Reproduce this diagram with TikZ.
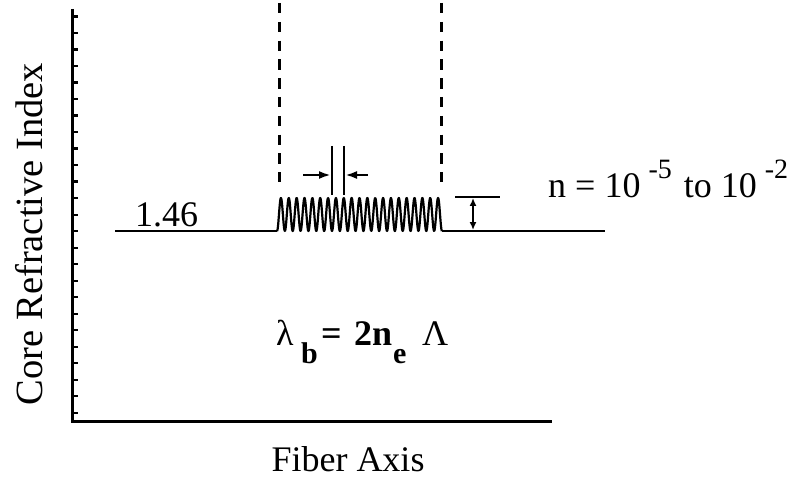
\documentclass[tikz,border=0pt]{standalone}
\usepackage{fontspec}
\setmainfont{Liberation Serif}
\usetikzlibrary{arrows.meta}
\tikzset{
  axisline/.style={line width=3pt},
  tickline/.style={line width=2.4pt},
  profile/.style={line width=2.2pt, line join=round},
  guide/.style={line width=3pt, dash pattern=on 10.5pt off 8.3pt},
  marker/.style={line width=2.4pt},
  arr/.style={line width=2.4pt, -{Latex[length=12pt,width=8pt]}},
  darr/.style={line width=2.2pt, {Latex[length=8pt,width=7pt]}-{Latex[length=8pt,width=7pt]}},
  lbl/.style={font=\fontsize{36}{42}\selectfont, inner sep=0pt},
}
\newcommand{\putat}[2]{\makebox[0pt][l]{\hspace*{#1}#2}}
\newcommand{\supsm}[1]{\raisebox{18pt}{\fontsize{28}{30}\selectfont #1}}
\begin{document}
\begin{tikzpicture}[x=1pt,y=-1pt]
\useasboundingbox (0,0) rectangle (799,478);
% axes
\coordinate (ytop) at (72,9);
\coordinate (orig) at (72,421);
\coordinate (xend) at (552,421);
\draw[axisline] (ytop) -- (orig) -- (xend);
\foreach \k in {0,...,24}{
  \draw[tickline] (72,{16.7+\k*16.5}) -- (78,{16.7+\k*16.5});
}
% refractive index profile
\coordinate (b0) at (115,231);
\coordinate (g0) at (277,231);
\coordinate (g1) at (442,231);
\coordinate (b1) at (605,231);
\draw[profile] (b0) -- (g0);
\draw[profile] plot[domain=0:21, samples=600] ({277+\x*7.857}, {231-16.5*(1-cos(360*\x))});
\draw[profile] (g1) -- (b1);
% dashed guides
\coordinate (d1t) at (279,3);
\coordinate (d1b) at (279,182.5);
\coordinate (d2t) at (441,3);
\coordinate (d2b) at (441,182.5);
\draw[guide] (d1t) -- (d1b);
\draw[guide] (d2t) -- (d2b);
% period marker
\coordinate (p1t) at (332,146);
\coordinate (p1b) at (332,195);
\coordinate (p2t) at (344,146);
\coordinate (p2b) at (344,195);
\draw[marker] (p1t) -- (p1b);
\draw[marker] (p2t) -- (p2b);
\coordinate (a1s) at (303,175);
\coordinate (a1e) at (331,175);
\coordinate (a2s) at (368,175);
\coordinate (a2e) at (345,175);
\draw[arr] (a1s) -- (a1e);
\draw[arr] (a2s) -- (a2e);
% index change marker
\coordinate (h1) at (455,197);
\coordinate (h2) at (500,197);
\draw[marker] (h1) -- (h2);
\coordinate (v1) at (473,198);
\coordinate (v2) at (473,230);
\draw[darr] (v1) -- (v2);
% labels
\node[lbl, anchor=base west] (n146) at (135,226) {1.46};
\node[lbl, anchor=base west] (dn) at (548,197) {n = 10\hspace*{8pt}\supsm{-5}\hspace*{12pt}to 10\hspace*{8pt}\supsm{-2}};
\node[lbl, font=\fontsize{38.5}{44}\selectfont, rotate=90] (ylab) at (29,234) {Core Refractive Index};
\node[lbl, anchor=base] (xlab) at (348,471) {Fiber Axis};
\node[lbl, anchor=base west] (bragg) at (276,345) {%
  \putat{0pt}{λ}%
  \putat{25pt}{\raisebox{-18pt}{\fontsize{30}{32}\selectfont\bfseries b}}%
  \putat{45pt}{\bfseries =}%
  \putat{78pt}{\bfseries 2n}%
  \putat{117pt}{\raisebox{-18pt}{\fontsize{30}{32}\selectfont\bfseries e}}%
  \putat{146pt}{Λ}\hspace*{171pt}};
\end{tikzpicture}
\end{document}
